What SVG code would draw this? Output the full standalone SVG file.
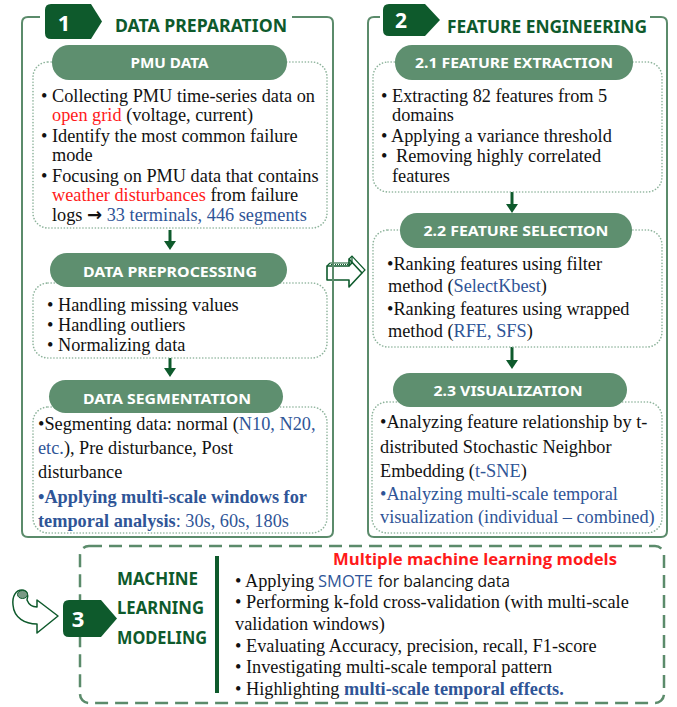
<svg xmlns="http://www.w3.org/2000/svg" width="677" height="707" viewBox="0 0 677 707">
<style>
.outer{fill:none;stroke:#5b8b6b;stroke-width:2;stroke-linejoin:round}
.dot{fill:#fff;stroke:#8db39b;stroke-width:1.6;stroke-dasharray:0.1 3;stroke-linecap:round}
.pill{fill:#5e8f6f}
.ph{font-family:"Noto Sans","Liberation Sans",sans-serif;font-weight:700;font-size:14px;fill:#fff;text-anchor:middle}
.badge{fill:#0e5a2c}
.bn{font-family:"Noto Sans","Liberation Sans",sans-serif;font-weight:700;fill:#fff;text-anchor:middle}
.title{font-family:"Noto Sans","Liberation Sans",sans-serif;font-weight:700;font-size:17px;fill:#0e5a2c}
.t{font-family:"Liberation Serif","Times New Roman",serif;font-size:18.3px;fill:#111}
.s{font-family:"Open Sans","Liberation Sans",sans-serif;font-size:16px;fill:#111}
.red{fill:#ff1a1a}
.blue{fill:#2f5597}
.b{font-weight:700}
.conn{stroke:#0e5a2c;stroke-width:3;fill:none}
.head{fill:#0e5a2c}
</style>

<g id="connectors">
  <line class="conn" x1="170" y1="230" x2="170" y2="242"/>
  <polygon class="head" points="164,241 176,241 170,250"/>
  <line class="conn" x1="170" y1="358" x2="170" y2="369"/>
  <polygon class="head" points="164,368 176,368 170,377"/>
  <line class="conn" x1="512" y1="192" x2="512" y2="205"/>
  <polygon class="head" points="506,204 518,204 512,213"/>
  <line class="conn" x1="512" y1="347" x2="512" y2="361"/>
  <polygon class="head" points="506,360 518,360 512,369"/>
  <path d="M327 266 L349 266 L349 259 L362 273 L349 287 L349 280 L327 280 Z" fill="#fff" stroke="#0e5a2c" stroke-width="1.6" stroke-linejoin="round"/>
  <path d="M330 263 L352 263 L352 256" fill="none" stroke="#0e5a2c" stroke-width="1.2"/>
  <path d="M327 266 L330 263 M349 266 L352 263 M349 259 L352 256 L365 270 L362 273" fill="none" stroke="#0e5a2c" stroke-width="1.2"/>
  <line x1="331" y1="264.5" x2="350" y2="264.5" stroke="#0e5a2c" stroke-width="1" stroke-dasharray="1 1"/>
  <path d="M27 600 C29 605 33 607 37 607 L37 600 L58 616 L37 633 L37 624 C25 624 14 618 13 605 C12 596 16 590 22 590 C27 590 29 595 27 600 Z" fill="#fff" stroke="#0e5a2c" stroke-width="1.5" stroke-linejoin="round"/>
  <ellipse cx="22.5" cy="594.5" rx="5" ry="4" fill="#7a9a85" stroke="#0e5a2c" stroke-width="1"/>
</g>

<g id="section1">
  <path class="outer" d="M40 17 H28 Q22 17 22 23 V531 Q22 537 28 537 H327 Q333 537 333 531 V23 Q333 17 327 17 H292"/>
  <path class="badge" d="M51 4 H91 L102 21.5 L91 39 H51 Q45 39 45 33 V10 Q45 4 51 4 Z"/>
  <text class="bn" x="64" y="31" font-size="22">1</text>
  <text class="title" x="115" y="32" textLength="172" lengthAdjust="spacingAndGlyphs">DATA PREPARATION</text>
</g>

<g id="pmu-data">
  <rect class="dot" x="33" y="62" width="294" height="166" rx="15"/>
  <rect class="pill" x="52" y="45" width="235" height="35" rx="17"/>
  <text class="ph" x="169.5" y="68" textLength="78" lengthAdjust="spacingAndGlyphs">PMU DATA</text>
  <text class="t" x="41" y="102">• Collecting PMU time-series data on</text>
  <text class="t" x="52" y="121"><tspan class="red">open grid</tspan> (voltage, current)</text>
  <text class="t" x="41" y="142">• Identify the most common failure</text>
  <text class="t" x="52" y="161">mode</text>
  <text class="t" x="41" y="182">• Focusing on PMU data that contains</text>
  <text class="t" x="52" y="201"><tspan class="red">weather disturbances</tspan> from failure</text>
  <text class="t" x="52" y="221">logs <tspan font-family="DejaVu Sans" font-weight="700" font-size="18">→</tspan> <tspan class="blue">33 terminals, 446 segments</tspan></text>
</g>

<g id="data-preprocessing">
  <rect class="dot" x="33" y="283" width="294" height="75" rx="15"/>
  <rect class="pill" x="50" y="253" width="237" height="34" rx="17"/>
  <text class="ph" x="170" y="277" textLength="174" lengthAdjust="spacingAndGlyphs">DATA PREPROCESSING</text>
  <text class="t" x="47" y="311">• Handling missing values</text>
  <text class="t" x="47" y="331">• Handling outliers</text>
  <text class="t" x="47" y="351">• Normalizing data</text>
</g>

<g id="data-segmentation">
  <rect class="dot" x="33" y="407" width="294" height="126" rx="15"/>
  <rect class="pill" x="49" y="380" width="234" height="33" rx="16.5"/>
  <text class="ph" x="167" y="404" textLength="168" lengthAdjust="spacingAndGlyphs">DATA SEGMENTATION</text>
  <text class="t" x="38" y="430">•Segmenting data: normal (<tspan class="blue">N10, N20,</tspan></text>
  <text class="t" x="38" y="454"><tspan class="blue">etc.</tspan>), Pre disturbance, Post</text>
  <text class="t" x="38" y="478">disturbance</text>
  <text class="t blue" x="38" y="503"><tspan class="b">•Applying multi-scale windows for</tspan></text>
  <text class="t blue" x="38" y="527"><tspan class="b">temporal analysis</tspan>: 30s, 60s, 180s</text>
</g>

<g id="section2">
  <path class="outer" d="M380 17 H374 Q368 17 368 23 V531 Q368 537 374 537 H661 Q667 537 667 531 V23 Q667 17 661 17 H650"/>
  <path class="badge" d="M389 4 H425 L440 20 L425 36 H389 Q383 36 383 30 V10 Q383 4 389 4 Z"/>
  <text class="bn" x="401" y="28" font-size="21">2</text>
  <text class="title" x="447" y="33" textLength="200" lengthAdjust="spacingAndGlyphs">FEATURE ENGINEERING</text>
</g>

<g id="feature-extraction">
  <rect class="dot" x="373" y="62" width="289" height="130" rx="15"/>
  <rect class="pill" x="395" y="45" width="238" height="35" rx="17"/>
  <text class="ph" x="514" y="68" textLength="198" lengthAdjust="spacingAndGlyphs">2.1 FEATURE EXTRACTION</text>
  <text class="t" x="381" y="102">• Extracting 82 features from 5</text>
  <text class="t" x="392" y="121">domains</text>
  <text class="t" x="381" y="142">• Applying a variance threshold</text>
  <text class="t" x="381" y="162">•</text>
  <text class="t" x="396" y="162">Removing highly correlated</text>
  <text class="t" x="392" y="182">features</text>
</g>

<g id="feature-selection">
  <rect class="dot" x="373" y="230" width="289" height="117" rx="15"/>
  <rect class="pill" x="400" y="213" width="232" height="35" rx="17"/>
  <text class="ph" x="516" y="236" textLength="185" lengthAdjust="spacingAndGlyphs">2.2 FEATURE SELECTION</text>
  <text class="t" x="387" y="270">•Ranking features using filter</text>
  <text class="t" x="388" y="292">method (<tspan class="blue">SelectKbest</tspan>)</text>
  <text class="t" x="387" y="315">•Ranking features using wrapped</text>
  <text class="t" x="388" y="337">method (<tspan class="blue">RFE, SFS</tspan>)</text>
</g>

<g id="visualization">
  <rect class="dot" x="372" y="402" width="290" height="131" rx="15"/>
  <rect class="pill" x="393" y="373" width="234" height="34" rx="17"/>
  <text class="ph" x="508" y="396" textLength="149" lengthAdjust="spacingAndGlyphs">2.3 VISUALIZATION</text>
  <text class="t" x="380" y="428">•Analyzing feature relationship by t-</text>
  <text class="t" x="380" y="453">distributed Stochastic Neighbor</text>
  <text class="t" x="380" y="477">Embedding (<tspan class="blue">t-SNE</tspan>)</text>
  <text class="t blue" x="380" y="500">•Analyzing multi-scale temporal</text>
  <text class="t blue" x="380" y="523">visualization (individual – combined)</text>
</g>

<g id="section3">
  <rect x="80" y="546" width="584" height="157" rx="9" fill="none" stroke="#5b8b6b" stroke-width="2.5" stroke-dasharray="13 7"/>
  <path class="badge" d="M69 600 H101 L117 618.5 L101 637 H69 Q63 637 63 631 V606 Q63 600 69 600 Z"/>
  <text class="bn" x="78" y="627" font-size="22">3</text>
  <text class="title" x="117" y="585" font-size="16" textLength="81" lengthAdjust="spacingAndGlyphs">MACHINE</text>
  <text class="title" x="117" y="614" font-size="16" textLength="87" lengthAdjust="spacingAndGlyphs">LEARNING</text>
  <text class="title" x="117" y="644" font-size="16" textLength="90" lengthAdjust="spacingAndGlyphs">MODELING</text>
  <line x1="217" y1="556" x2="217" y2="693" stroke="#0e5a2c" stroke-width="4"/>
  <text x="333" y="565" font-family="Open Sans,Liberation Sans,sans-serif" font-weight="700" font-size="16" fill="#ff1a1a" textLength="284" lengthAdjust="spacingAndGlyphs">Multiple machine learning models</text>
  <text class="t" x="235" y="587">• Applying</text>
  <text class="s blue" x="318" y="587" textLength="55" lengthAdjust="spacingAndGlyphs">SMOTE</text>
  <text class="s" x="378" y="587" textLength="132" lengthAdjust="spacingAndGlyphs">for balancing data</text>
  <text class="t" x="235" y="608">• Performing k-fold cross-validation (with multi-scale</text>
  <text class="t" x="235" y="630">validation windows)</text>
  <text class="t" x="235" y="652">• Evaluating Accuracy, precision, recall, F1-score</text>
  <text class="t" x="235" y="673">• Investigating multi-scale temporal pattern</text>
  <text class="t" x="235" y="695">• Highlighting <tspan class="blue b">multi-scale temporal effects.</tspan></text>
</g>
</svg>
